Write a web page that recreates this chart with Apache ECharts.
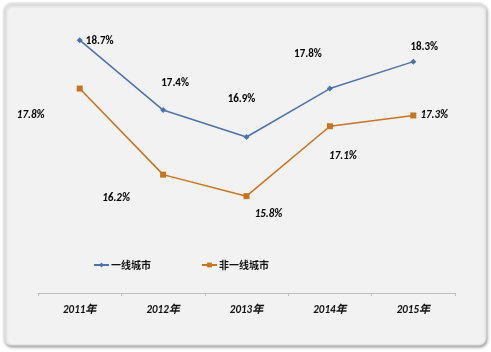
<!DOCTYPE html>
<html>
<head>
<meta charset="utf-8">
<script src="https://cdn.jsdelivr.net/npm/echarts@6/dist/echarts.min.js"></script>
<style>
  html, body { margin: 0; padding: 0; background: #ffffff; }
  #chart { width: 491px; height: 352px; }
</style>
</head>
<body>
<div id="chart"></div>
<script>
const years = ['2011年', '2012年', '2013年', '2014年', '2015年'];
const tier1 = [18.7, 17.4, 16.9, 17.8, 18.3];
const nonTier1 = [17.8, 16.2, 15.8, 17.1, 17.3];

// label offsets [dx, dy] relative to each point, as placed in the picture
const tier1Offsets = [[20, 1], [12, -27], [-5, -38], [-22, -34], [11, -14]];
const nonTier1Offsets = [[-49, 27], [-47, 24], [22, 18], [13, 30], [21, 0]];

const chart = echarts.init(document.getElementById('chart'));

const labelFont = 'Calibri, "Liberation Sans", "Noto Sans CJK SC", sans-serif';

function buildData(values, offsets, italic) {
  return values.map((v, i) => ({
    value: v,
    label: {
      show: true,
      position: 'inside',
      offset: offsets[i],
      formatter: v.toFixed(1) + '%',
      color: '#000',
      fontSize: 11,
      fontWeight: 'bold',
      fontStyle: italic ? 'italic' : 'normal',
      fontFamily: labelFont
    }
  }));
}

const options = {
  animation: false,
  graphic: [
    {
      type: 'rect',
      z: -10,
      shape: { x: 4, y: 3, width: 482, height: 342, r: 7 },
      style: {
        fill: '#f2f2f2',
        stroke: '#e0e0e0',
        lineWidth: 1,
        shadowBlur: 3,
        shadowOffsetX: 1,
        shadowOffsetY: 2,
        shadowColor: 'rgba(0,0,0,0.35)'
      }
    }
  ],
  legend: {
    left: 88,
    top: 255,
    itemGap: 50,
    itemWidth: 15,
    itemHeight: 6,
    textStyle: {
      color: '#111',
      fontSize: 10,
      fontWeight: 'bold',
      padding: [0, 0, 0, -3],
      fontFamily: '"Noto Sans CJK SC", sans-serif'
    },
    data: ['一线城市', '非一线城市']
  },
  grid: {
    left: 38,
    right: 36,
    top: 24,
    bottom: 59
  },
  xAxis: {
    type: 'category',
    data: years,
    boundaryGap: true,
    axisLine: { lineStyle: { color: '#bfbfbf', width: 1 } },
    axisTick: { show: true, length: 3, inside: false, lineStyle: { color: '#bfbfbf' } },
    axisLabel: {
      color: '#111',
      fontSize: 11,
      fontStyle: 'italic',
      fontWeight: 'bold',
      fontFamily: labelFont,
      margin: 12
    },
    splitLine: { show: false }
  },
  yAxis: {
    type: 'value',
    min: 14,
    max: 19,
    show: false,
    splitLine: { show: false }
  },
  series: [
    {
      name: '一线城市',
      type: 'line',
      data: buildData(tier1, tier1Offsets, false),
      symbol: 'diamond',
      symbolSize: 6,
      itemStyle: { color: '#4e73a8' },
      lineStyle: { color: '#4e73a8', width: 1.5 }
    },
    {
      name: '非一线城市',
      type: 'line',
      data: buildData(nonTier1, nonTier1Offsets, true),
      symbol: 'rect',
      symbolSize: 6,
      itemStyle: { color: '#c8741f' },
      lineStyle: { color: '#c8741f', width: 1.5 }
    }
  ]
};

chart.setOption(options);
</script>
</body>
</html>
